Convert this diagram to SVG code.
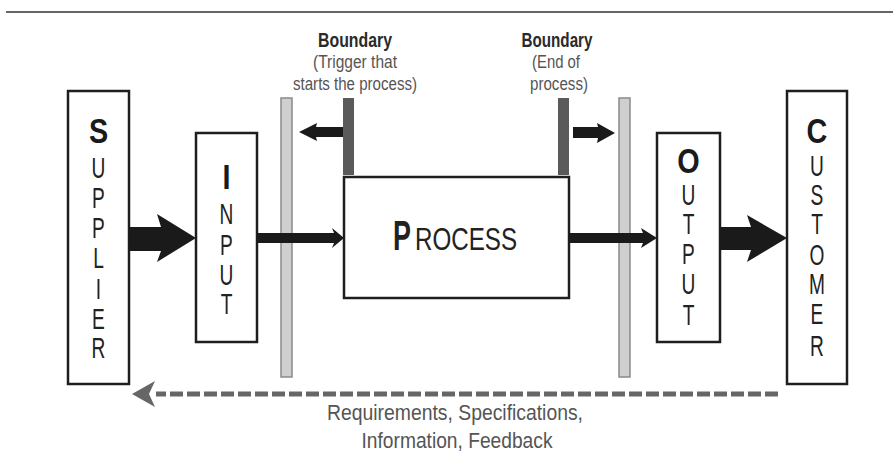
<svg xmlns="http://www.w3.org/2000/svg" width="893" height="466" viewBox="0 0 893 466">
  <style>
    .box { fill: #fff; stroke: #1e1e1e; stroke-width: 2.5; }
    .wall { fill: #cfcfcf; stroke: #8a8a8a; stroke-width: 1.5; }
    .gate { fill: #5a5a5a; }
    .flow { fill: #1a1a1a; }
    .ltr { font-family: "Liberation Sans", Arial, sans-serif; font-size: 29px; fill: #222; text-anchor: middle; }
    .init { font-family: "Liberation Sans", Arial, sans-serif; font-size: 36px; font-weight: bold; fill: #1a1a1a; text-anchor: middle; }
    .hdr { font-family: "Liberation Sans", Arial, sans-serif; font-size: 19.5px; font-weight: bold; fill: #2a2a2a; text-anchor: middle; }
    .note { font-family: "Liberation Sans", Arial, sans-serif; font-size: 17.5px; fill: #555; text-anchor: middle; }
    .fb { font-family: "Liberation Sans", Arial, sans-serif; font-size: 21.5px; fill: #555; text-anchor: middle; }
    .proc { font-family: "Liberation Sans", Arial, sans-serif; fill: #222; }
  </style>

  <rect width="893" height="466" fill="#fff"/>
  <!-- header rule -->
  <line x1="6" y1="12" x2="893" y2="12" stroke="#333" stroke-width="1.5"/>

  <!-- boundary walls and gates -->
  <g id="boundary-start">
    <rect class="wall" x="281" y="98" width="11" height="279"/>
    <rect class="gate" x="343" y="98" width="11" height="77"/>
    <text class="hdr" x="355" y="47" textLength="74" lengthAdjust="spacingAndGlyphs">Boundary</text>
    <text class="note" x="355" y="68" textLength="84" lengthAdjust="spacingAndGlyphs">(Trigger that</text>
    <text class="note" x="355" y="90" textLength="124" lengthAdjust="spacingAndGlyphs">starts the process)</text>
  </g>
  <g id="boundary-end">
    <rect class="wall" x="619" y="98" width="11" height="279"/>
    <rect class="gate" x="558" y="98" width="11" height="77"/>
    <text class="hdr" x="557" y="47" textLength="71" lengthAdjust="spacingAndGlyphs">Boundary</text>
    <text class="note" x="556" y="68" textLength="48" lengthAdjust="spacingAndGlyphs">(End of</text>
    <text class="note" x="559" y="90" textLength="58" lengthAdjust="spacingAndGlyphs">process)</text>
  </g>

  <!-- SIPOC nodes: bold initial plus the rest of the word stacked vertically -->
  <g id="supplier">
    <rect class="box" x="68" y="91" width="61" height="293"/>
    <g transform="translate(98.5 0) scale(0.8 1)"><text class="init" x="0" y="143">S</text></g>
    <g transform="translate(98.5 0) scale(0.66 1)">
      <text class="ltr"><tspan x="0" y="178">U</tspan><tspan x="0" y="208">P</tspan><tspan x="0" y="238">P</tspan><tspan x="0" y="268">L</tspan><tspan x="0" y="299">I</tspan><tspan x="0" y="329">E</tspan><tspan x="0" y="358">R</tspan></text>
    </g>
  </g>

  <g id="input">
    <rect class="box" x="196" y="133" width="61" height="209"/>
    <g transform="translate(226.5 0) scale(0.8 1)"><text class="init" x="0" y="189" font-size="38">I</text></g>
    <g transform="translate(226.5 0) scale(0.66 1)">
      <text class="ltr"><tspan x="0" y="224">N</tspan><tspan x="0" y="255">P</tspan><tspan x="0" y="285">U</tspan><tspan x="0" y="314">T</tspan></text>
    </g>
  </g>

  <g id="process">
    <rect class="box" x="344" y="177" width="225" height="121"/>
    <g transform="translate(393 250) scale(0.64 1)">
      <text class="proc" x="0" y="0" font-size="42" font-weight="bold" fill="#1a1a1a">P</text>
    </g>
    <g transform="translate(415 250) scale(0.755 1)">
      <text class="proc" x="0" y="0" font-size="32">ROCESS</text>
    </g>
  </g>

  <g id="output">
    <rect class="box" x="657" y="133" width="63" height="209"/>
    <g transform="translate(688.5 0) scale(0.8 1)"><text class="init" x="0" y="173">O</text></g>
    <g transform="translate(688.5 0) scale(0.66 1)">
      <text class="ltr"><tspan x="0" y="205">U</tspan><tspan x="0" y="234">T</tspan><tspan x="0" y="264">P</tspan><tspan x="0" y="294">U</tspan><tspan x="0" y="325">T</tspan></text>
    </g>
  </g>

  <g id="customer">
    <rect class="box" x="787" y="91" width="60" height="293"/>
    <g transform="translate(817 0) scale(0.8 1)"><text class="init" x="0" y="143">C</text></g>
    <g transform="translate(817 0) scale(0.66 1)">
      <text class="ltr"><tspan x="0" y="176">U</tspan><tspan x="0" y="205">S</tspan><tspan x="0" y="234">T</tspan><tspan x="0" y="265">O</tspan><tspan x="0" y="294">M</tspan><tspan x="0" y="324">E</tspan><tspan x="0" y="356">R</tspan></text>
    </g>
  </g>

  <!-- connectors -->
  <g id="connectors">
    <polygon class="flow" points="129,227 161,227 157,214 196,238 157,262 161,251 129,251"/>
    <polygon class="flow" points="257,233 334,233 332,228 344,238 332,248 334,243 257,243"/>
    <polygon class="flow" points="569,233 643,233 641,228 657,238 641,248 643,243 569,243"/>
    <polygon class="flow" points="720,227 751,227 747,215 787,238 747,262 751,250 720,250"/>
    <polygon class="flow" points="343,127 316,127 317,123 299,132 317,141 316,137 343,137"/>
    <polygon class="flow" points="573,127 598,127 597,123 615,133 597,143 598,138 573,138"/>
    <!-- feedback path -->
    <line x1="778" y1="394" x2="156" y2="394" stroke="#666" stroke-width="5" stroke-dasharray="13 4"/>
    <polygon fill="#666" points="132,394 155,381 149,394 155,407"/>
  </g>

  <g id="feedback-label">
    <text class="fb" x="455" y="420" textLength="256" lengthAdjust="spacingAndGlyphs">Requirements, Specifications,</text>
    <text class="fb" x="457" y="448" textLength="191" lengthAdjust="spacingAndGlyphs">Information, Feedback</text>
  </g>
</svg>
